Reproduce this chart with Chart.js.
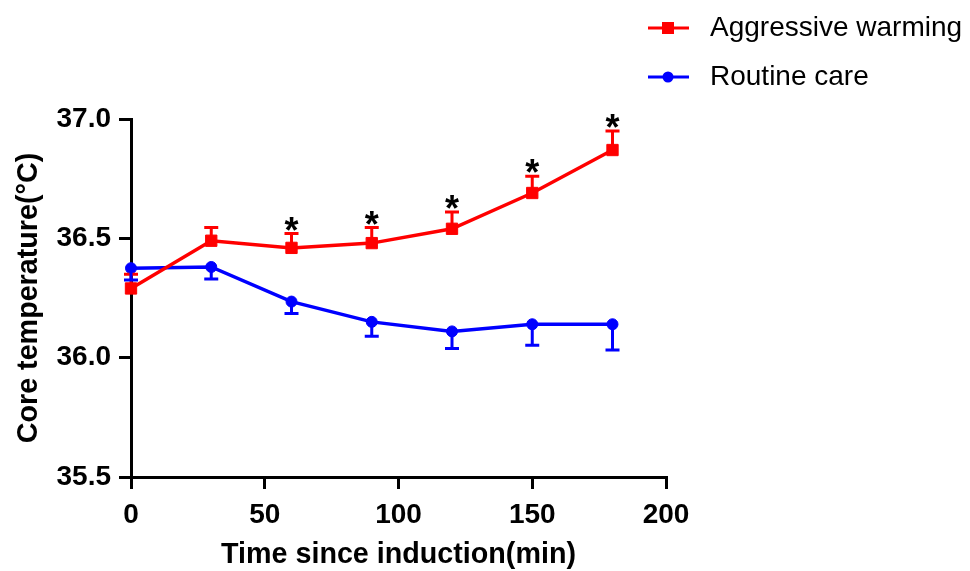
<!DOCTYPE html>
<html lang="en">

<head>
    <meta charset="UTF-8">
    <script src="https://cdn.jsdelivr.net/npm/chart.js@4.4.0/dist/chart.umd.min.js"></script>
    <title>Core temperature</title>
    <style>
        html, body { margin: 0; padding: 0; background: #fff; }
        #wrap { width: 970px; height: 571px; }
    </style>
</head>

<body>
    <div id="wrap"><canvas id="tempChart"></canvas></div>

<script>
    // values
    const time = [0, 30, 60, 90, 120, 150, 180];
    const warming = [36.29, 36.49, 36.46, 36.48, 36.54, 36.69, 36.87];
    const warmingErr = [0.06, 0.055, 0.06, 0.065, 0.07, 0.07, 0.08];
    const routine = [36.375, 36.38, 36.235, 36.15, 36.11, 36.14, 36.14];
    const routineErr = [0.05, 0.05, 0.05, 0.06, 0.072, 0.088, 0.108];
    const significant = [false, false, true, true, true, true, true];
    const xTicks = [0, 50, 100, 150, 200];
    const yTicks = [35.5, 36.0, 36.5, 37.0];

    // the axis font in the figure is a condensed bold; use Narrow if it exists
    function hasFont(name) {
        let c = document.createElement('canvas').getContext('2d');
        c.font = 'bold 40px monospace';
        let a = c.measureText('Time since induction').width;
        c.font = 'bold 40px "' + name + '", monospace';
        return c.measureText('Time since induction').width !== a;
    }
    let narrow = hasFont('Liberation Sans Narrow');
    let axisFamily = narrow ? '"Liberation Sans Narrow", "Liberation Sans", Arial, sans-serif' : '"Liberation Sans", Arial, sans-serif';
    let tickSize = narrow ? 32 : 28;
    let titleSize = narrow ? 35 : 28.7;

    function pts(ys) {
        return time.map(function (t, i) { return { x: t, y: ys[i] }; });
    }

    const errorBars = {
        id: 'errorBars',
        afterDatasetsDraw(chart) {
            let ctx = chart.ctx;
            let y = chart.scales.y;
            chart.data.datasets.forEach(function (ds, di) {
                let meta = chart.getDatasetMeta(di);
                ctx.save();
                ctx.strokeStyle = ds.borderColor;
                ctx.lineWidth = 3;
                meta.data.forEach(function (p, i) {
                    let v = ds.data[i].y;
                    let end = y.getPixelForValue(v + ds.errDir * ds.err[i]);
                    ctx.beginPath();
                    ctx.moveTo(p.x, p.y);
                    ctx.lineTo(p.x, end);
                    ctx.moveTo(p.x - 7, end);
                    ctx.lineTo(p.x + 7, end);
                    ctx.stroke();
                    if (ds.stars && ds.stars[i]) {
                        ctx.fillStyle = '#000';
                        ctx.font = 'bold 36px "Liberation Sans", Arial, sans-serif';
                        ctx.textAlign = 'center';
                        ctx.textBaseline = 'alphabetic';
                        let m = ctx.measureText('*');
                        let mid = (m.actualBoundingBoxAscent - m.actualBoundingBoxDescent) / 2;
                        ctx.fillText('*', p.x, end - 10 + mid);
                    }
                });
                ctx.restore();
            });
        }
    };

    const sideLegend = {
        id: 'sideLegend',
        afterDraw(chart) {
            let ctx = chart.ctx;
            let rows = [
                { text: 'Aggressive warming', color: '#ff0000', shape: 'rect', y: 28 },
                { text: 'Routine care', color: '#0000ff', shape: 'circle', y: 77 }
            ];
            ctx.save();
            rows.forEach(function (r) {
                ctx.strokeStyle = r.color;
                ctx.fillStyle = r.color;
                ctx.lineWidth = 3;
                ctx.beginPath();
                ctx.moveTo(648, r.y);
                ctx.lineTo(689, r.y);
                ctx.stroke();
                ctx.beginPath();
                if (r.shape === 'rect') {
                    ctx.rect(662, r.y - 6, 12, 12);
                } else {
                    ctx.arc(668, r.y, 5.5, 0, Math.PI * 2);
                }
                ctx.fill();
                ctx.fillStyle = '#000';
                ctx.font = '28px "Liberation Sans", Arial, sans-serif';
                ctx.textAlign = 'left';
                ctx.textBaseline = 'middle';
                ctx.fillText(r.text, 710, r.y);
            });
            ctx.restore();
        }
    };

    let ctx = document.getElementById('tempChart').getContext('2d');
    let chart = new Chart(ctx, {
        type: 'line',
        data: {
            datasets: [{
                label: 'Aggressive warming',
                data: pts(warming),
                err: warmingErr,
                errDir: 1,
                stars: significant,
                borderColor: '#ff0000',
                backgroundColor: '#ff0000',
                borderWidth: 3.5,
                pointStyle: 'rect',
                pointRadius: 8,
                pointBorderWidth: 1,
                clip: false
            }, {
                label: 'Routine care',
                data: pts(routine),
                err: routineErr,
                errDir: -1,
                borderColor: '#0000ff',
                backgroundColor: '#0000ff',
                borderWidth: 3.5,
                pointStyle: 'circle',
                pointRadius: 5.5,
                pointBorderWidth: 1,
                clip: false
            }]
        },
        options: {
            responsive: true,
            maintainAspectRatio: false,
            animation: false,
            layout: { padding: { top: 119, right: 304, left: 0, bottom: 0 } },
            plugins: {
                legend: { display: false },
                tooltip: { enabled: false }
            },
            scales: {
                x: {
                    type: 'linear',
                    min: 0,
                    max: 200,
                    afterBuildTicks: function (s) { s.ticks = xTicks.map(function (v) { return { value: v }; }); },
                    afterFit: function (s) { s.height = 94; },
                    border: { display: true, color: '#000', width: 3 },
                    grid: { display: true, drawOnChartArea: false, color: '#000', lineWidth: 3, tickLength: 12 },
                    ticks: { color: '#000', padding: 9, font: { family: axisFamily, size: tickSize, weight: 'bold' } },
                    title: {
                        display: true,
                        text: 'Time since induction(min)',
                        color: '#000',
                        padding: { top: 0, bottom: 2 },
                        font: { family: axisFamily, size: titleSize, weight: 'bold', lineHeight: 1 }
                    }
                },
                y: {
                    min: 35.5,
                    max: 37.0,
                    afterBuildTicks: function (s) { s.ticks = yTicks.map(function (v) { return { value: v }; }); },
                    afterFit: function (s) { s.width = 131; },
                    border: { display: true, color: '#000', width: 3 },
                    grid: { display: true, drawOnChartArea: false, color: '#000', lineWidth: 3, tickLength: 12 },
                    ticks: {
                        color: '#000',
                        padding: 8,
                        font: { family: axisFamily, size: tickSize, weight: 'bold' },
                        callback: function (v) { return v.toFixed(1); }
                    },
                    title: {
                        display: true,
                        text: 'Core temperature(°C)',
                        color: '#000',
                        padding: { top: 15, bottom: 0 },
                        font: { family: axisFamily, size: titleSize, weight: 'bold', lineHeight: 1 }
                    }
                }
            }
        },
        plugins: [errorBars, sideLegend]
    });
</script>
</body>

</html>
